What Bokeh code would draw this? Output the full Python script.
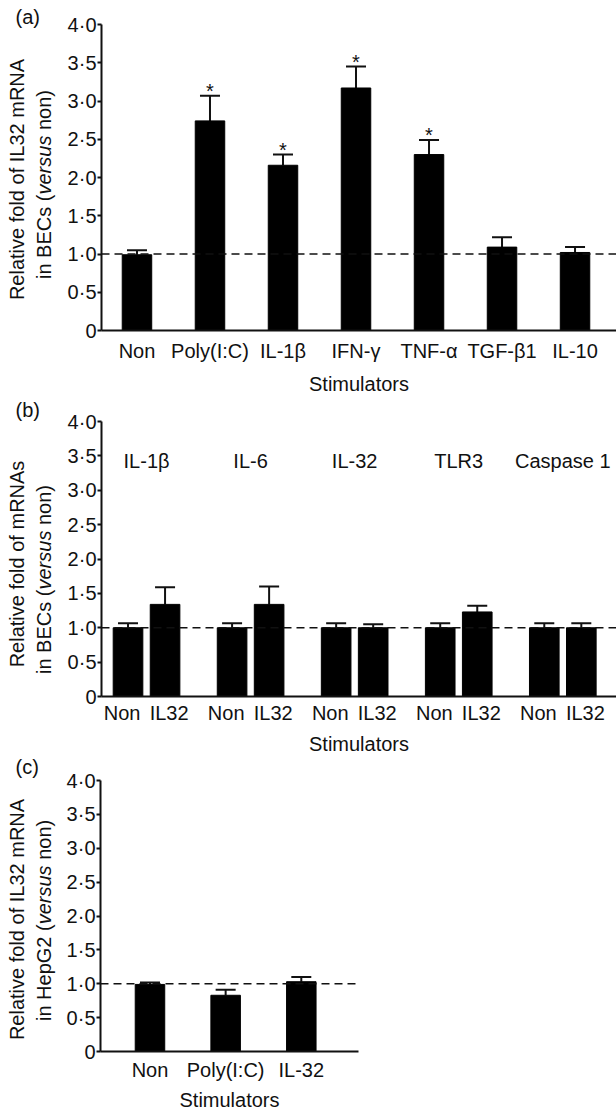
import math
from bokeh.plotting import figure
from bokeh.models import (ColumnDataSource, FixedTicker, Whisker, TeeHead, Span,
                          Range1d, CustomJSTickFormatter)
from bokeh.layouts import column, row
from bokeh.embed import file_html
from bokeh.resources import INLINE
from bokeh.core.properties import value

# ---------------- data ----------------
# Panel (a): IL32 mRNA in BECs
a_categories = ["Non", "Poly(I:C)", "IL-1β", "IFN-γ", "TNF-α", "TGF-β1", "IL-10"]
a_means = [0.99, 2.74, 2.16, 3.17, 2.30, 1.09, 1.02]
a_upper = [1.05, 3.07, 2.30, 3.45, 2.49, 1.22, 1.09]
a_significant = [False, True, True, True, True, False, False]

# Panel (b): mRNAs in BECs, Non vs IL32 stimulation
b_genes = ["IL-1β", "IL-6", "IL-32", "TLR3", "Caspase 1"]
b_treatments = ["Non", "IL32"]
b_non_means = [1.00, 1.00, 1.00, 1.00, 1.00]
b_non_upper = [1.065, 1.065, 1.065, 1.065, 1.065]
b_il32_means = [1.34, 1.34, 1.00, 1.23, 1.00]
b_il32_upper = [1.59, 1.60, 1.05, 1.32, 1.065]

# Panel (c): IL32 mRNA in HepG2
c_categories = ["Non", "Poly(I:C)", "IL-32"]
c_means = [0.99, 0.83, 1.03]
c_upper = [1.02, 0.91, 1.10]

y_ticks = [0, 0.5, 1.0, 1.5, 2.0, 2.5, 3.0, 3.5, 4.0]
y_tick_labels = ["0", "0·5", "1·0", "1·5", "2·0", "2·5", "3·0", "3·5", "4·0"]

x_title = "Stimulators"

# ---------------- style ----------------
FONT = "Liberation Sans"
FS = "20px"
INK = "#111111"
LAB_W = 60  # width of the strip holding the y titles

LOOKUP = """
let best = -1, bd = 1e9;
for (let i = 0; i < tvals.length; i++) {
  const d = Math.abs(tvals[i] - tick);
  if (d < bd) { bd = d; best = i; }
}
return (best >= 0 && bd < 1e-6) ? tlabels[best] : "";
"""


def formatter(vals, labels):
    return CustomJSTickFormatter(args=dict(tvals=list(vals), tlabels=list(labels)), code=LOOKUP)


def make_fig(height, left, right, top, bottom, x_start, x_end,
             label_standoff, title_standoff):
    p = figure(width=616 - LAB_W, height=height,
               x_range=Range1d(x_start, x_end), y_range=Range1d(0, 4.0),
               output_backend="svg", toolbar_location=None,
               min_border_left=left, min_border_right=right,
               min_border_top=top, min_border_bottom=bottom)
    p.frame_align = False
    p.outline_line_color = None
    p.grid.visible = False
    p.background_fill_color = "white"
    p.border_fill_color = "white"

    yax = p.yaxis[0]
    yax.ticker = FixedTicker(ticks=y_ticks)
    yax.formatter = formatter(y_ticks, y_tick_labels)
    yax.minor_tick_line_color = None
    yax.major_tick_out = 4
    yax.major_tick_in = 0
    yax.major_tick_line_width = 2
    yax.major_tick_line_color = INK
    yax.axis_line_width = 2
    yax.axis_line_color = INK
    yax.major_label_standoff = 1
    yax.major_label_text_font = FONT
    yax.major_label_text_font_size = FS
    yax.major_label_text_color = INK

    xax = p.xaxis[0]
    xax.minor_tick_line_color = None
    xax.major_tick_line_color = None
    xax.major_tick_out = 0
    xax.major_tick_in = 0
    xax.axis_line_width = 2
    xax.axis_line_color = INK
    xax.major_label_standoff = label_standoff
    xax.major_label_text_font = FONT
    xax.major_label_text_font_size = FS
    xax.major_label_text_color = INK
    xax.axis_label = x_title
    xax.axis_label_text_font = FONT
    xax.axis_label_text_font_size = FS
    xax.axis_label_text_font_style = "normal"
    xax.axis_label_text_color = INK
    xax.axis_label_standoff = title_standoff

    p.add_layout(Span(location=1.0, dimension="width", line_color=INK,
                      line_width=1.5, line_dash="8 5"))
    return p


def add_bars(p, xs, means, uppers, width):
    src = ColumnDataSource(dict(x=list(xs), mean=list(means), upper=list(uppers)))
    p.vbar(x="x", top="mean", bottom=0, width=width, source=src,
           fill_color="black", line_color="black")
    p.add_layout(Whisker(source=src, base="x", lower="mean", upper="upper",
                         dimension="height", line_color=INK, line_width=2,
                         upper_head=TeeHead(size=20, line_color=INK, line_width=2),
                         lower_head=None))


def make_title_strip(height, tag, tag_y, line1, line1_y, pieces, line2_bottom):
    """Narrow figure (pixel coordinates, y downward) holding the panel tag and y title."""
    f = figure(width=LAB_W, height=height, x_range=Range1d(0, LAB_W),
               y_range=Range1d(height, 0), output_backend="svg",
               toolbar_location=None, x_axis_type=None, y_axis_type=None,
               min_border=0, min_border_left=0, min_border_right=0,
               min_border_top=0, min_border_bottom=0)
    f.frame_align = False
    f.outline_line_color = None
    f.grid.visible = False
    f.background_fill_color = "white"
    f.border_fill_color = "white"
    f.text(x=[15], y=[tag_y], text=[tag], text_align="left", text_baseline="middle",
           text_font=value(FONT), text_font_size=value(FS), text_color=INK)
    f.text(x=[16.5], y=[line1_y], text=[line1], angle=math.pi / 2,
           text_align="center", text_baseline="middle",
           text_font=value(FONT), text_font_size=value(FS), text_color=INK)
    y = line2_bottom
    for txt, style, adv in pieces:
        f.text(x=[43], y=[y], text=[txt], angle=math.pi / 2,
               text_align="left", text_baseline="middle",
               text_font=value(FONT), text_font_size=value(FS),
               text_font_style=value(style), text_color=INK)
        y -= adv
    return f


BEC_PIECES = [("in BECs (", "normal", 84.5), ("versus", "italic", 64.5), ("non)", "normal", 40)]
HEP_PIECES = [("in HepG2 (", "normal", 96.7), ("versus", "italic", 64.5), ("non)", "normal", 40)]

# ---------------- panel (a) ----------------
pa = make_fig(height=397, left=41, right=0, top=24, bottom=63,
              x_start=-0.486, x_end=6.568, label_standoff=9, title_standoff=8)
a_x = list(range(len(a_categories)))
pa.xaxis[0].ticker = FixedTicker(ticks=a_x)
pa.xaxis[0].formatter = formatter(a_x, a_categories)
add_bars(pa, a_x, a_means, a_upper, 0.404)
sx = [x for x, s in zip(a_x, a_significant) if s]
sy = [u for u, s in zip(a_upper, a_significant) if s]
pa.text(x=sx, y=sy, text=["*"] * len(sx), text_align="center",
        text_baseline="middle", y_offset=-5, text_font=value(FONT),
        text_font_size=value(FS), text_color=INK)
la = make_title_strip(397, "(a)", 16, "Relative fold of IL32 mRNA", 179, BEC_PIECES, 278.5)

# ---------------- panel (b) ----------------
GROUP_STEP = 2.81
b_x_non = [i * GROUP_STEP for i in range(len(b_genes))]
b_x_il32 = [i * GROUP_STEP + 1 for i in range(len(b_genes))]
pb = make_fig(height=360, left=41, right=0, top=24, bottom=59,
              x_start=-0.716, x_end=13.19, label_standoff=5, title_standoff=6)
b_tick_pos, b_tick_lab = [], []
for xn, xi in zip(b_x_non, b_x_il32):
    b_tick_pos += [xn - 0.16, xi + 0.11]
    b_tick_lab += b_treatments
pb.xaxis[0].ticker = FixedTicker(ticks=b_tick_pos)
pb.xaxis[0].formatter = formatter(b_tick_pos, b_tick_lab)
add_bars(pb, b_x_non, b_non_means, b_non_upper, 0.8)
add_bars(pb, b_x_il32, b_il32_means, b_il32_upper, 0.8)
pb.text(x=[(a + b) / 2 for a, b in zip(b_x_non, b_x_il32)], y=[3.43] * len(b_genes),
        text=b_genes, text_align="center", text_baseline="middle",
        text_font=value(FONT), text_font_size=value(FS), text_color=INK)
lb = make_title_strip(360, "(b)", 12, "Relative fold of mRNAs", 166.5, BEC_PIECES, 276.5)

# ---------------- panel (c) ----------------
pc = make_fig(height=356, left=40, right=258, top=23, bottom=57,
              x_start=-0.654, x_end=2.756, label_standoff=7, title_standoff=5)
c_x = list(range(len(c_categories)))
pc.xaxis[0].ticker = FixedTicker(ticks=c_x)
pc.xaxis[0].formatter = formatter(c_x, c_categories)
add_bars(pc, c_x, c_means, c_upper, 0.39)
lc = make_title_strip(356, "(c)", 9, "Relative fold of IL32 mRNA", 162, HEP_PIECES, 263.5)

layout = column(row(la, pa, spacing=0), row(lb, pb, spacing=0), row(lc, pc, spacing=0),
                spacing=0)
open("out.html", "w").write(file_html(layout, INLINE))
